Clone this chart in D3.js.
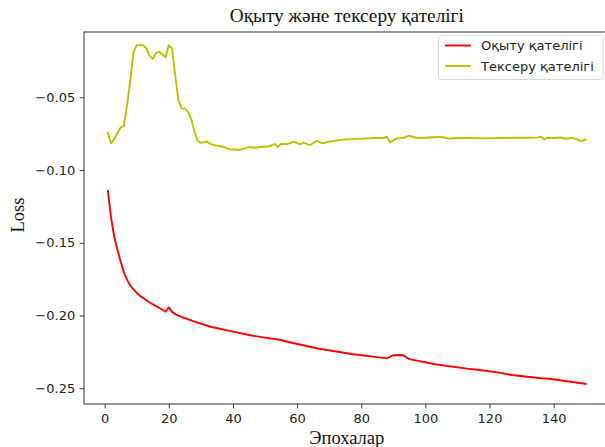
<!DOCTYPE html>
<html><head><meta charset="utf-8">
<script src="https://cdn.jsdelivr.net/npm/d3@7"></script>
<style>body{margin:0;background:#fff}svg{display:block}</style>
</head><body>
<svg id="c" width="605" height="447"></svg>
<script>
const titleText = "Оқыту және тексеру қателігі";
const xLabel = "Эпохалар";
const yLabel = "Loss";
const seriesNames = ["Оқыту қателігі", "Тексеру қателігі"];
const xTicks = [0, 20, 40, 60, 80, 100, 120, 140];
const yTicks = [-0.25, -0.20, -0.15, -0.10, -0.05];

const trainEpochs = [1,2,3,4,5,6,7,8,9,10,11,12,14,16,18,19,20,21,22,24,28,33,40,45,50,55,57,66,77,88,90,93,95,103,113,117,123,127,136,138,150];
const trainLoss = [-0.1142,-0.1330,-0.1460,-0.1550,-0.1630,-0.1705,-0.1755,-0.1795,-0.1820,-0.1845,-0.1865,-0.1880,-0.1910,-0.1935,-0.1960,-0.1974,-0.1943,-0.1975,-0.1990,-0.2010,-0.2042,-0.2077,-0.2111,-0.2134,-0.2152,-0.2168,-0.2180,-0.2225,-0.2264,-0.2294,-0.2273,-0.2271,-0.2300,-0.2335,-0.2365,-0.2374,-0.2392,-0.2409,-0.2431,-0.2433,-0.2470];

const valEpochs = [1,2,3,4,5,6,7,8,9,10,11,12,13,14,15,16,17,18,19,20,21,22,23,24,25,26,27,28,29,30,31,32,33,35,37,39,42,45,47,49,51,53,54,55,57,59,60,61,62,64,66,68,70,72,75,80,84,87,88,89,91,93,95,97,100,105,107,110,114,119,124,128,133,135,136,137,138,140,142,144,146,148,149,150];
const valLoss = [-0.0743,-0.0816,-0.0785,-0.0745,-0.0706,-0.0697,-0.0550,-0.0381,-0.0187,-0.0141,-0.0141,-0.0141,-0.0165,-0.0215,-0.0235,-0.0195,-0.0187,-0.0205,-0.0225,-0.0141,-0.0165,-0.0350,-0.0519,-0.0576,-0.0578,-0.0600,-0.0650,-0.0735,-0.0800,-0.0812,-0.0808,-0.0805,-0.0822,-0.0832,-0.0840,-0.0857,-0.0862,-0.0842,-0.0847,-0.0840,-0.0838,-0.0821,-0.0840,-0.0821,-0.0821,-0.0805,-0.0815,-0.0821,-0.0812,-0.0830,-0.0800,-0.0816,-0.0805,-0.0798,-0.0789,-0.0784,-0.0780,-0.0780,-0.0771,-0.0810,-0.0784,-0.0780,-0.0764,-0.0778,-0.0778,-0.0771,-0.0784,-0.0780,-0.0780,-0.0782,-0.0780,-0.0778,-0.0778,-0.0775,-0.0770,-0.0790,-0.0778,-0.0780,-0.0776,-0.0785,-0.0778,-0.0795,-0.0800,-0.0790];

const colors = ["#ff0000", "#bfbf00"];

const svg = d3.select("#c");
const L = 84, R = 609.6, T = 32, B = 404;
const x = d3.scaleLinear().domain([-6.45, 157.45]).range([L, R]);
const y = d3.scaleLinear().domain([-0.2608, -0.0051]).range([B, T]);

const tickFont = "'DejaVu Sans', sans-serif";
const serif = "'Liberation Serif', 'Times New Roman', serif";

// lines
const line = d3.line().x(d => x(d[0])).y(d => y(d[1]));
svg.append("clipPath").attr("id","clip").append("rect")
  .attr("x", L).attr("y", T).attr("width", R - L).attr("height", B - T);
const g = svg.append("g").attr("clip-path","url(#clip)");
g.append("path").datum(trainEpochs.map((e,i)=>[e, trainLoss[i]]))
  .attr("d", line).attr("fill","none").attr("stroke",colors[0]).attr("stroke-width",1.9).attr("stroke-linejoin","round").attr("stroke-linecap","square");
g.append("path").datum(valEpochs.map((e,i)=>[e, valLoss[i]]))
  .attr("d", line).attr("fill","none").attr("stroke",colors[1]).attr("stroke-width",1.9).attr("stroke-linejoin","round").attr("stroke-linecap","square");

// axes
const xAxis = d3.axisBottom(x).tickValues(xTicks).tickSize(4.4).tickPadding(4.4).tickFormat(d3.format("d"));
const yAxis = d3.axisLeft(y).tickValues(yTicks).tickSize(4.4).tickPadding(4.4)
  .tickFormat(d => d3.format(".2f")(d).replace("-", "\u2212"));
const gx = svg.append("g").attr("transform",`translate(0,${B})`).call(xAxis);
const gy = svg.append("g").attr("transform",`translate(${L},0)`).call(yAxis);
[gx, gy].forEach(a => {
  a.select(".domain").remove();
  a.selectAll(".tick line").attr("stroke","#333").attr("stroke-width",1);
  a.selectAll(".tick text").attr("fill","#222").style("font-family",tickFont).style("font-size","13px");
});
gx.selectAll(".tick text").attr("dy","0.75em");

// spines
svg.append("rect").attr("x",L).attr("y",T).attr("width",R-L).attr("height",B-T)
  .attr("fill","none").attr("stroke","#333").attr("stroke-width",1);

// title & labels
svg.append("text").attr("x",(L+R)/2).attr("y",22).attr("text-anchor","middle")
  .style("font-family",serif).style("font-size","19.3px").attr("fill","#111").text(titleText);
svg.append("text").attr("x",(L+R)/2).attr("y",444).attr("text-anchor","middle")
  .style("font-family",serif).style("font-size","18.5px").attr("fill","#111").text(xLabel);
svg.append("text").attr("transform",`translate(24,${(T+B)/2 - 3}) rotate(-90)`).attr("text-anchor","middle")
  .style("font-family",serif).style("font-size","18.5px").attr("fill","#111").text(yLabel);

// legend
const lg = svg.append("g");
lg.append("rect").attr("x",438.5).attr("y",35.5).attr("width",164.5).attr("height",44)
  .attr("rx",3).attr("fill","#fff").attr("fill-opacity",0.8).attr("stroke","#d6d6d6").attr("stroke-width",1);
seriesNames.forEach((n,i) => {
  const yy = 45.5 + i*20.5;
  lg.append("line").attr("x1",445).attr("x2",471).attr("y1",yy).attr("y2",yy)
    .attr("stroke",colors[i]).attr("stroke-width",1.9);
  lg.append("text").attr("x",481).attr("y",yy).attr("dy","0.36em")
    .style("font-family",tickFont).style("font-size","13px").attr("fill","#222").text(n);
});
</script>
</body></html>
